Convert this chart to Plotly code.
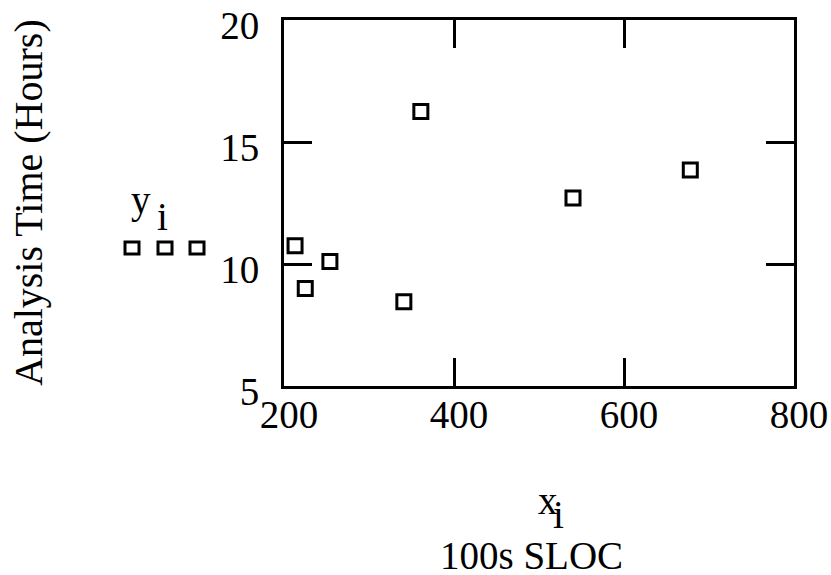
import plotly.graph_objects as go

# Data
x_sloc = [213, 225, 254, 341, 361, 540, 678]
y_hours = [10.75, 9.0, 10.1, 8.45, 16.25, 12.7, 13.85]

x_ticks = [200, 400, 600, 800]
y_ticks = [5, 10, 15, 20]

FONT = "Liberation Serif"
FS = 39

fig = go.Figure()
fig.add_trace(go.Scatter(
    x=x_sloc, y=y_hours, mode="markers",
    marker=dict(symbol="square-open", size=14, color="black",
                line=dict(width=3, color="black")),
    cliponaxis=False, showlegend=False, hoverinfo="x+y"))

axis_common = dict(
    showline=True, linewidth=3, linecolor="black", mirror="ticks",
    ticks="inside", ticklen=28, tickwidth=3, tickcolor="black",
    showgrid=False, zeroline=False, automargin=False,
    ticklabeloverflow="allow",
    tickfont=dict(family=FONT, size=FS, color="black"),
)

fig.update_xaxes(range=[200, 800], tickvals=x_ticks,
                 ticktext=[str(v) for v in x_ticks],
                 ticklabelshift=5, ticklabelstandoff=-8, **axis_common)
fig.update_yaxes(range=[5, 20], tickvals=y_ticks,
                 ticktext=[str(v) for v in y_ticks],
                 ticklabelshift=5, ticklabelstandoff=14, **axis_common)

def txt(s, dx, dy, anchor_x=0, anchor_y=1, angle=0, size=FS):
    return dict(text=s, textangle=angle, xref="paper", yref="paper",
                x=anchor_x, y=anchor_y, xshift=dx, yshift=dy,
                xanchor="center", yanchor="middle", showarrow=False,
                font=dict(family=FONT, size=size, color="black"))

# plot area in page pixels: left 284, right 794, top 20, bottom 386
annotations = [
    txt("Analysis Time (Hours)", 28 - 284, 0, 0, 0.5, -90, 40),
    txt("x", 548 - 284, -(500 - 20)),
    txt("i", 558 - 284, -(514 - 20)),
    txt("100s SLOC", 531 - 284, -(555 - 20)),
    txt("y", 141 - 284, -(200 - 20)),
    txt("i", 162 - 284, -(216 - 20)),
]

shapes = []
for cx in [132, 165, 197]:
    dx = cx - 284
    shapes.append(dict(type="rect", xref="paper", yref="paper",
                       xsizemode="pixel", ysizemode="pixel",
                       xanchor=0, yanchor=1,
                       x0=dx - 7, x1=dx + 7, y0=-(248 - 20) - 6, y1=-(248 - 20) + 6,
                       line=dict(color="black", width=3)))

fig.update_layout(
    width=831, height=575,
    margin=dict(l=284, r=37, t=20, b=189, autoexpand=False),
    plot_bgcolor="white", paper_bgcolor="white",
    annotations=annotations, shapes=shapes,
    font=dict(family=FONT, color="black"),
)

fig.write_html(
    "out.html",
    config={"displayModeBar": False},
    post_script="document.body.style.margin='0';document.body.style.overflow='hidden';",
)
